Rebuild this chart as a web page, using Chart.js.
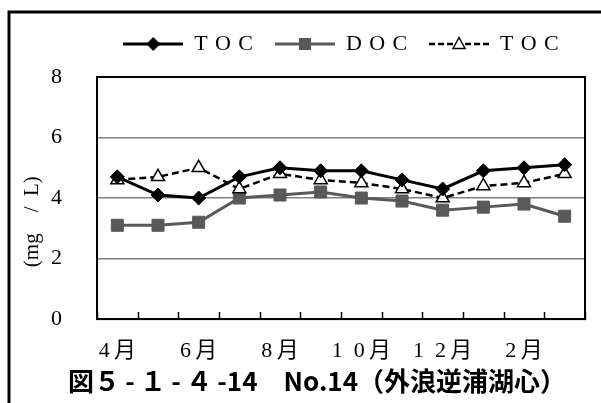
<!DOCTYPE html>
<html><head><meta charset="utf-8">
<script src="https://cdn.jsdelivr.net/npm/chart.js@4.4.0/dist/chart.umd.min.js"></script>
<style>html,body{margin:0;padding:0;background:#fff;} canvas{display:block;}</style>
</head><body>
<canvas id="c" width="601" height="403"></canvas>
<script>
const categories = ['4月','5月','6月','7月','8月','9月','10月','11月','12月','1月','2月','3月'];
const tocValues  = [4.7,4.1,4.0,4.7,5.0,4.9,4.9,4.6,4.3,4.9,5.0,5.1];
const docValues  = [3.1,3.1,3.2,4.0,4.1,4.2,4.0,3.9,3.6,3.7,3.8,3.4];
const toc2Values = [4.6,4.7,5.0,4.3,4.8,4.6,4.5,4.3,4.0,4.4,4.5,4.8];
const seriesNames = ['TOC','DOC','TOC'];
const yTicks = [0,2,4,6,8];
const titleText = '図５\u2009-\u2009１\u2009-\u2009４\u2009-14　No.14（外浪逆浦湖心）';
const yTitleText = '(mg\u3000/\u2002L)';

const GRAY = '#595959';
const SERIF = '"Liberation Serif", "Noto Sans CJK JP"';

function legendIcon(kind) {
  const c = document.createElement('canvas');
  c.width = 60; c.height = 20;
  const g = c.getContext('2d');
  g.lineWidth = kind === 'dash' ? 2.5 : 3;
  g.strokeStyle = kind === 'doc' ? GRAY : '#000';
  if (kind === 'dash') g.setLineDash([6, 3]);
  g.beginPath(); g.moveTo(0, 10); g.lineTo(60, 10); g.stroke();
  g.setLineDash([]);
  if (kind === 'toc') {
    g.fillStyle = '#000';
    g.beginPath(); g.moveTo(23,10); g.lineTo(30,3); g.lineTo(37,10); g.lineTo(30,17); g.closePath(); g.fill();
  } else if (kind === 'doc') {
    g.fillStyle = GRAY; g.fillRect(24,4,12,12);
  } else {
    g.fillStyle = '#fff'; g.strokeStyle = '#000'; g.lineWidth = 1.5;
    g.beginPath(); g.moveTo(30,3.5); g.lineTo(36,14.5); g.lineTo(24,14.5); g.closePath(); g.fill(); g.stroke();
  }
  return c;
}
const icons = [legendIcon('toc'), legendIcon('doc'), legendIcon('dash')];

function fmtMonth(s) {
  const m = s.replace('月','');
  return m.split('').join('\u2002') + '\u2009月';
}

const framePlugin = {
  id: 'frame',
  afterInit(chart) {
    const lg = chart.legend;
    if (lg) {
      const f = lg.fit.bind(lg);
      lg.fit = function () { f(); this.height += 12; };
    }
  },
  beforeDraw(chart) {
    const ctx = chart.ctx;
    ctx.save();
    ctx.fillStyle = '#fff'; ctx.fillRect(0, 0, chart.width, chart.height);
    ctx.strokeStyle = '#000'; ctx.lineWidth = 3;
    ctx.beginPath(); ctx.moveTo(9, chart.height + 5); ctx.lineTo(9, 12); ctx.lineTo(chart.width + 5, 12); ctx.stroke();
    ctx.restore();
  },
  beforeDatasetsDraw(chart) {
    const {ctx, chartArea: a, scales: {x}} = chart;
    ctx.save();
    ctx.strokeStyle = '#000'; ctx.lineWidth = 2;
    ctx.strokeRect(a.left, a.top, a.right - a.left, a.bottom - a.top);
    ctx.lineWidth = 1.5;
    ctx.beginPath();
    for (let i = 0; i <= categories.length; i++) {
      const px = Math.round(x.getPixelForValue(i - 0.5)) + 0.5;
      ctx.moveTo(px, a.bottom); ctx.lineTo(px, a.bottom - 7);
    }
    ctx.stroke();
    ctx.restore();
  }
};

new Chart(document.getElementById('c'), {
  type: 'line',
  data: {
    labels: categories,
    datasets: [
      { label: seriesNames[0], data: tocValues, order: 0, borderColor: '#000', borderWidth: 3,
        pointStyle: 'rectRot', pointRadius: 7, pointBackgroundColor: '#000', pointBorderColor: '#000', pointBorderWidth: 1 },
      { label: seriesNames[1], data: docValues, order: 2, borderColor: GRAY, borderWidth: 3,
        pointStyle: 'rect', pointRadius: 8.5, pointBackgroundColor: GRAY, pointBorderColor: GRAY, pointBorderWidth: 1 },
      { label: seriesNames[2], data: toc2Values, order: 1, borderColor: '#000', borderWidth: 2.5, borderDash: [7, 4],
        pointStyle: 'triangle', pointRadius: 7.5, pointBackgroundColor: '#fff', pointBorderColor: '#000', pointBorderWidth: 1.5 }
    ]
  },
  options: {
    responsive: false, animation: false, devicePixelRatio: 1,
    layout: { padding: { left: 10, right: 16, top: 11, bottom: 3 } },
    plugins: {
      tooltip: { enabled: false },
      legend: {
        position: 'top', fullSize: false,
        labels: {
          usePointStyle: true, pointStyleWidth: 60, padding: 22, color: '#000',
          font: { family: SERIF, size: 22 },
          sort: (a, b) => a.datasetIndex - b.datasetIndex,
          generateLabels: (chart) => chart.data.datasets.map((d, i) => ({
            text: d.label.split('').join(' \u200A'), datasetIndex: i, pointStyle: icons[i],
            fillStyle: '#000', strokeStyle: '#000', lineWidth: 0, hidden: false, fontColor: '#000'
          }))
        }
      },
      title: {
        display: true, position: 'bottom', fullSize: true, text: '\u3000\u2002' + titleText,
        color: '#000', font: { family: '"Noto Sans CJK JP"', size: 26, weight: 'bold', lineHeight: 1.15 },
        padding: { top: 0, bottom: 4 }
      }
    },
    scales: {
      x: {
        offset: true,
        grid: { display: false, drawTicks: false },
        border: { display: true, color: '#000', width: 2 },
        afterFit(s) { s.height = 47; },
        ticks: {
          autoSkip: false, maxRotation: 0, padding: 19, color: '#000',
          font: { family: SERIF, size: 22 },
          callback: (v, i) => (i % 2 === 0 ? fmtMonth(categories[i]) : '')
        }
      },
      y: {
        min: 0, max: 8,
        afterBuildTicks(s) { s.ticks = yTicks.map(v => ({ value: v })); },
        afterFit(s) { s.width = 87; },
        grid: { color: '#808080', lineWidth: 1.5, drawTicks: false },
        border: { display: true, color: '#000', width: 2 },
        ticks: { padding: 35, color: '#000', font: { family: SERIF, size: 22 } },
        title: {
          display: true, text: yTitleText + '\u3000\u3000 ', color: '#000',
          font: { family: SERIF, size: 21 }, padding: { top: 10, bottom: 0 }
        }
      }
    }
  },
  plugins: [framePlugin]
});
</script>
</body></html>
